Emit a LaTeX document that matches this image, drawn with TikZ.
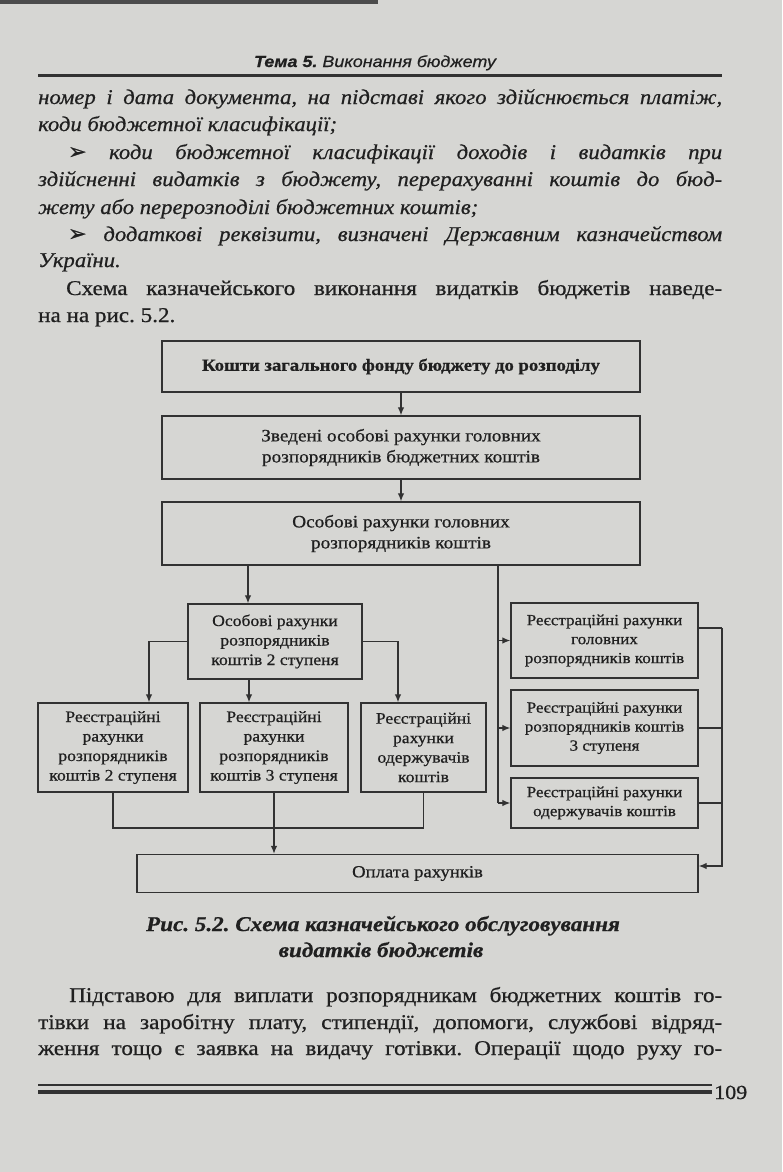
\documentclass[tikz,border=0pt]{standalone}
\usepackage{fontspec}
\setmainfont{Liberation Serif}[FakeStretch=1.1,FakeBold=0.7]
\newfontfamily\itfont{Liberation Serif}[FakeStretch=1.08,FakeBold=0.6]
\newfontfamily\hdrfont{Liberation Sans}[FakeStretch=1.12,FakeBold=0.6]
\newfontfamily\symfont{DejaVu Sans}[FakeBold=1]
\usetikzlibrary{arrows.meta,calc}
\definecolor{pagebg}{RGB}{214,214,211}
\definecolor{ink}{RGB}{32,32,32}
\definecolor{rulec}{RGB}{50,50,50}
\frenchspacing
\newcommand{\jl}[2]{\makebox[#1][s]{#2}}
\newcommand{\bul}{{\symfont\fontsize{22}{22}\selectfont ➢}}
\begin{document}
\begin{tikzpicture}[x=1pt,y=-1pt,
  box/.style={draw=rulec,line width=1.4pt,align=center,inner sep=0pt,text=ink,font=\fontsize{16}{19.5}\selectfont},
  rbox/.style={box,font=\fontsize{15.5}{19}\selectfont},
  arr/.style={draw=rulec,line width=1.2pt,-{Latex[length=8pt,width=6.5pt]}},
  ln/.style={draw=rulec,line width=1.2pt},
  body/.style={anchor=base west,inner sep=0pt,text=ink,font=\fontsize{21}{27}\selectfont},
  ibody/.style={body,font=\itfont\fontsize{21}{27}\selectfont\itshape},
  captext/.style={anchor=base,inner sep=0pt,text=ink,font=\fontsize{21}{27}\selectfont\bfseries\itshape},
  hdr/.style={anchor=base,inner sep=0pt,text=ink,font=\hdrfont\fontsize{16}{18}\selectfont\itshape}
]
\useasboundingbox (0,0) rectangle (782,1172);
\fill[pagebg] (0,0) rectangle (782,1172);
\fill[black!70] (0,0) rectangle (378,4);

% header
\node[hdr] (hdr) at (375,67) {\textbf{Тема 5.} Виконання бюджету};
\draw[rulec,line width=3pt] (38,75.5) -- (722,75.5);

% top text
\node[ibody] (t1) at (38,104) {\jl{684pt}{номер і дата документа, на підставі якого здійснюється платіж,}};
\node[ibody] (t2) at (38,131) {коди бюджетної класифікації;};
\node[ibody] (t3) at (68,159) {\jl{654pt}{\bul\ коди бюджетної класифікації доходів і видатків при}};
\node[ibody] (t4) at (38,186) {\jl{684pt}{здійсненні видатків з бюджету, перерахуванні коштів до бюд-}};
\node[ibody] (t5) at (38,214) {жету або перерозподілі бюджетних коштів;};
\node[ibody] (t6) at (68,241) {\jl{654pt}{\bul\ додаткові реквізити, визначені Державним казначейством}};
\node[ibody] (t7) at (38,267) {України.};
\node[body] (t8) at (66,295) {\jl{656pt}{Схема казначейського виконання видатків бюджетів наведе-}};
\node[body] (t9) at (38,322) {на на рис. 5.2.};

% diagram
\node[box,minimum width=478pt,minimum height=51pt,font=\fontsize{17}{20}\selectfont\bfseries] (n1) at (401,366.5) {Кошти загального фонду бюджету до розподілу};
\node[box,minimum width=478pt,minimum height=63pt,font=\fontsize{17.5}{21}\selectfont] (n2) at (401,447.5) {Зведені особові рахунки головних\\розпорядників бюджетних коштів};
\node[box,minimum width=478pt,minimum height=63pt,font=\fontsize{17.5}{21}\selectfont] (n3) at (401,533.5) {Особові рахунки головних\\розпорядників коштів};
\node[box,minimum width=174pt,minimum height=75pt] (n4) at (275,641.5) {Особові рахунки\\розпорядників\\коштів 2 ступеня};
\node[rbox,minimum width=187pt,minimum height=75pt] (r1) at (604.5,640.5) {Реєстраційні рахунки\\головних\\розпорядників коштів};
\node[rbox,minimum width=187pt,minimum height=76pt] (r2) at (604.5,728) {Реєстраційні рахунки\\розпорядників коштів\\3 ступеня};
\node[rbox,minimum width=187pt,minimum height=50pt] (r3) at (604.5,803) {Реєстраційні рахунки\\одержувачів коштів};
\node[box,minimum width=150pt,minimum height=89pt] (b1) at (113,747.5) {Реєстраційні\\рахунки\\розпорядників\\коштів 2 ступеня};
\node[box,minimum width=148pt,minimum height=89pt] (b2) at (274,747.5) {Реєстраційні\\рахунки\\розпорядників\\коштів 3 ступеня};
\node[box,minimum width=125pt,minimum height=89pt] (b3) at (423.5,747.5) {Реєстраційні\\рахунки\\одержувачів\\коштів};
\node[box,minimum width=561pt,minimum height=38pt,font=\fontsize{17}{20}\selectfont] (pay) at (417.5,873.5) {Оплата рахунків};

\coordinate (cA) at (248,0);
\coordinate (cB) at (498,0);
\coordinate (cR) at (722,0);
\coordinate (cL) at (149,0);
\coordinate (cM) at (249,0);
\coordinate (cN) at (398,0);
\coordinate (yJ) at (0,828);
\coordinate (yP) at (0,866);
\coordinate (yT) at (0,628);

\draw[arr] (n1.south) -- (n2.north);
\draw[arr] (n2.south) -- (n3.north);
\draw[arr] (n3.south -| cA) -- (n4.north -| cA);
\draw[ln] (n3.south -| cB) -- (cB |- r3.west);
\draw[arr] (cB |- r1.west) -- (r1.west);
\draw[arr] (cB |- r2.west) -- (r2.west);
\draw[arr] (cB |- r3.west) -- (r3.west);
\draw[ln] (r1.east |- yT) -- (cR |- yT);
\draw[ln] (r2.east) -- (cR |- r2.east);
\draw[ln] (r3.east) -- (cR |- r3.east);
\draw[arr] (cR |- yT) -- (cR |- yP) -- (pay.east |- yP);
\draw[arr] (n4.west) -| (cL |- b1.north);
\draw[arr] (n4.south -| cM) -- (b2.north -| cM);
\draw[arr] (n4.east) -| (cN |- b3.north);
\draw[ln] (b1.south) -- (b1.south |- yJ) -- (b3.south |- yJ) -- (b3.south);
\draw[arr] (b2.south) -- (b2.south |- pay.north);

% caption
\node[captext] (c1) at (383,931) {Рис. 5.2. Схема казначейського обслуговування};
\node[captext] (c2) at (381,957) {видатків бюджетів};

% bottom text
\node[body] (u1) at (69,1002) {\jl{653pt}{Підставою для виплати розпорядникам бюджетних коштів го-}};
\node[body] (u2) at (38,1029) {\jl{684pt}{тівки на заробітну плату, стипендії, допомоги, службові відряд-}};
\node[body] (u3) at (38,1055) {\jl{684pt}{ження тощо є заявка на видачу готівки. Операції щодо руху го-}};

\draw[rulec,line width=1.3pt] (38,1085) -- (712,1085);
\draw[rulec,line width=3.5pt] (38,1092) -- (712,1092);
\node[body,font=\fontsize{20}{22}\selectfont] (pg) at (714,1099) {109};
\end{tikzpicture}
\end{document}
